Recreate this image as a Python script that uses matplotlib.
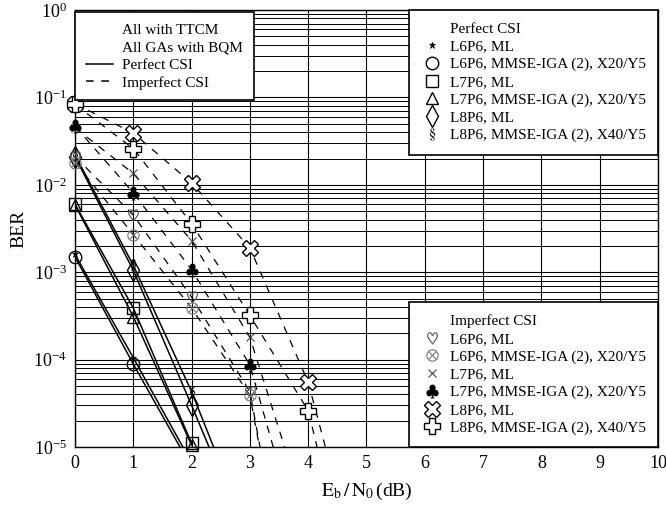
import matplotlib

matplotlib.use('Agg')
import matplotlib.pyplot as plt
from matplotlib.lines import Line2D

plt.rcParams['font.family'] = ['Liberation Serif', 'DejaVu Serif']
plt.rcParams['mathtext.fontset'] = 'stix'

# Eb/N0 points in dB
snr = [0, 1, 2, 3, 4, 5]

# Perfect CSI (solid lines); last value of some series sits below the plotted range
perf_l6_ml = [1.6e-3, 1.05e-4, 6.6e-6]
perf_l6_iga = [1.5e-3, 8.9e-5, 5.8e-6]
perf_l7_ml = [6.0e-3, 3.9e-4, 1.1e-5]
perf_l7_iga = [5.9e-3, 3.1e-4, 1.05e-5]
perf_l8_ml = [2.1e-2, 1.05e-3, 3.0e-5, 7.6e-7]
perf_l8_iga = [2.2e-2, 1.2e-3, 4.3e-5, 9.0e-7]

# Imperfect CSI (dashed lines)
imp_l6_ml = [2.1e-2, 4.5e-3, 5.2e-4, 4.3e-5, 1e-8]
imp_l6_iga = [1.8e-2, 2.7e-3, 3.9e-4, 3.9e-5, 1e-8]
imp_l7_ml = [4.5e-2, 1.35e-2, 2.3e-3, 1.8e-4, 1.4e-6]
imp_l7_iga = [4.7e-2, 8.1e-3, 1.07e-3, 8.7e-5, 3.9e-7]
imp_l8_ml = [8.5e-2, 3.9e-2, 1.05e-2, 1.9e-3, 5.5e-5, 1.7e-7]
imp_l8_iga = [8.3e-2, 2.6e-2, 3.6e-3, 3.2e-4, 2.6e-5, 5e-8]

perf_labels = ["L6P6, ML", "L6P6, MMSE-IGA (2), X20/Y5", "L7P6, ML",
               "L7P6, MMSE-IGA (2), X20/Y5", "L8P6, ML", "L8P6, MMSE-IGA (2), X40/Y5"]
imp_labels = ["L6P6, ML", "L6P6, MMSE-IGA (2), X20/Y5", "L7P6, ML",
              "L7P6, MMSE-IGA (2), X20/Y5", "L8P6, ML", "L8P6, MMSE-IGA (2), X40/Y5"]

perf_data = [perf_l6_ml, perf_l6_iga, perf_l7_ml, perf_l7_iga, perf_l8_ml, perf_l8_iga]
imp_data = [imp_l6_ml, imp_l6_iga, imp_l7_ml, imp_l7_iga, imp_l8_ml, imp_l8_iga]

# marker, size, face, edge, edge width
perf_style = [
    ('*', 5, 'k', 'k', 0.5),
    ('o', 9, 'none', 'k', 1.0),
    ('s', 9, 'none', 'k', 1.0),
    ('^', 9, 'none', 'k', 1.0),
    ('d', 11, 'none', 'k', 1.0),
    (r'$\S$', 9, 'k', 'k', 0.0),
]
imp_style = [
    (r'$\heartsuit$', 9, '#555555', '#555555', 0.0),
    (r'$\otimes$', 9, '#777777', '#777777', 0.0),
    ('x', 6, '#444444', '#444444', 0.8),
    (r'$\clubsuit$', 10, 'k', 'k', 0.0),
    ('X', 12, 'white', 'k', 1.0),
    ('P', 12, 'white', 'k', 1.0),
]

fig = plt.figure(figsize=(6.66, 5.09), dpi=100)
ax = fig.add_axes([0.1126, 0.1218, 0.8754, 0.8585])
ymin = 1e-5


def draw(data, styles, line_kw):
    for y, (m, ms, fc, ec, mw) in zip(data, styles):
        x = snr[:len(y)]
        ax.plot(x, y, color='k', zorder=3, **line_kw)
        xs = [a for a, b in zip(x, y) if b >= ymin * 0.99]
        ys = [b for b in y if b >= ymin * 0.99]
        ax.plot(xs, ys, ls='none', marker=m, ms=ms, mfc=fc, mec=ec, mew=mw,
                clip_on=False, zorder=4)


draw(perf_data, perf_style, dict(ls='-', lw=1.1))
draw(imp_data, imp_style, dict(lw=0.9, dashes=(6, 6)))

ax.set_yscale('log')
ax.set_xlim(0, 10)
ax.set_ylim(ymin, 1)
ax.set_xticks(range(0, 11))
ax.grid(True, which='major', color='k', lw=0.8)
ax.grid(True, which='minor', axis='y', color='k', lw=0.7)
ax.set_axisbelow(True)
ax.tick_params(which='both', length=0, labelsize=13, pad=6)
for s in ax.spines.values():
    s.set_linewidth(1.0)

ax.set_xlabel(r'$\mathrm{E}_{\mathrm{b}}\,/\,\mathrm{N}_{0}\,$(dB)', fontsize=14, labelpad=6)
ax.set_ylabel('BER', fontsize=14, labelpad=4)

leg_kw = dict(fontsize=11, frameon=True, fancybox=False, framealpha=1,
              edgecolor='k', borderaxespad=0, labelspacing=0.26)

# top-left legend
h_note = [Line2D([], [], ls='none'), Line2D([], [], ls='none'),
          Line2D([], [], color='k', lw=1.1),
          Line2D([], [], color='k', lw=1.1, dashes=(5, 5))]
l1 = ax.legend(h_note, ["All with TTCM", "All GAs with BQM", "Perfect CSI", "Imperfect CSI"],
               loc='upper left', bbox_to_anchor=(0, 0.995), handlelength=1.8,
               handletextpad=0.6, borderpad=0.7, **leg_kw)
l1.get_frame().set_linewidth(1.2)
l1.set_zorder(5)
ax.add_artist(l1)


def marker_handles(styles):
    return [Line2D([], [], ls='none')] + [
        Line2D([], [], ls='none', marker=m, ms=ms, mfc=fc, mec=ec, mew=mw)
        for (m, ms, fc, ec, mw) in styles]


# perfect CSI legend
l2 = ax.legend(marker_handles(perf_style), ["Perfect CSI"] + perf_labels, loc='upper right',
               bbox_to_anchor=(1, 1), handlelength=1.4, handletextpad=0.45,
               borderpad=0.8, **leg_kw)
l2.get_frame().set_linewidth(1.2)
l2.set_zorder(5)
ax.add_artist(l2)

# imperfect CSI legend
l3 = ax.legend(marker_handles(imp_style), ["Imperfect CSI"] + imp_labels, loc='lower right',
               bbox_to_anchor=(1, 0), handlelength=1.4, handletextpad=0.45,
               borderpad=0.8, **leg_kw)
l3.get_frame().set_linewidth(1.2)
l3.set_zorder(5)

fig.savefig('out.png', dpi=100)
